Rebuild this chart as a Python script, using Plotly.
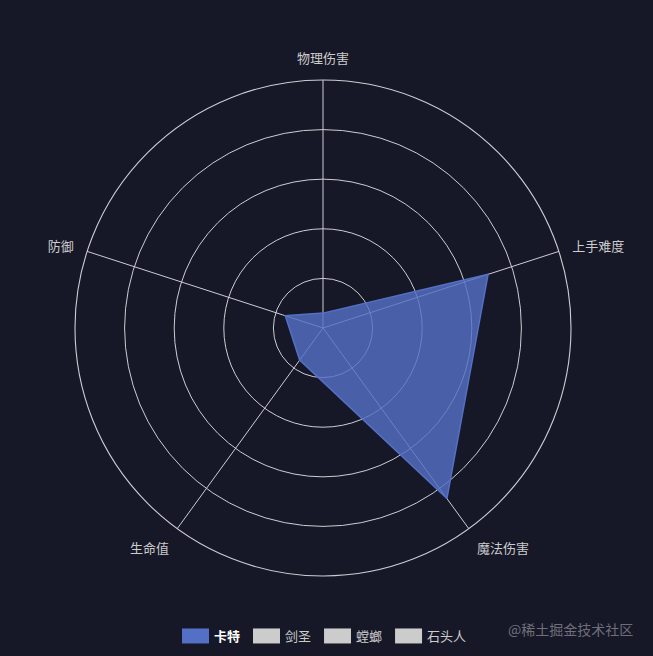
import plotly.graph_objects as go

# Radar indicators (clockwise from top)
indicators = ["物理伤害", "上手难度", "魔法伤害", "生命值", "防御"]
indicator_max = 100

# Series values (only 卡特 is shown in the picture; the others are toggled off in the legend)
series_names = ["卡特", "剑圣", "螳螂", "石头人"]
kate = [6, 70, 85, 16, 16]
jiansheng = [85, 40, 10, 45, 35]
tanglang = [80, 60, 10, 40, 30]
shitouren = [20, 30, 60, 90, 90]
series_values = [kate, jiansheng, tanglang, shitouren]
series_visible = [True, "legendonly", "legendonly", "legendonly"]
ring_values = [20, 40, 60, 80, 100]

BG = "#171827"
GRID = "#cdcdd4"
FONT = "Noto Sans CJK SC, Noto Sans, sans-serif"

line_colors = ["#5470c6", "#cccccc", "#cccccc", "#cccccc"]
fill_colors = ["rgba(84,112,198,0.82)", "#cccccc", "#cccccc", "#cccccc"]

fig = go.Figure()
for name, vals, vis, lc, fc in zip(series_names, series_values, series_visible, line_colors, fill_colors):
    label = f"<b><span style='color:#ffffff'>{name}</span></b>" if vis is True else name
    fig.add_trace(go.Scatterpolar(
        r=vals + [vals[0]],
        theta=indicators + [indicators[0]],
        mode="lines",
        fill="toself",
        fillcolor=fc,
        line=dict(color=lc, width=1.5),
        name=label,
        visible=vis,
        hoverinfo="skip",
    ))

fig.update_layout(
    width=653,
    height=656,
    paper_bgcolor=BG,
    plot_bgcolor=BG,
    margin=dict(l=75, r=82, t=80, b=80, autoexpand=False),
    font=dict(family=FONT, size=13, color="#cccccc"),
    polar=dict(
        bgcolor=BG,
        radialaxis=dict(
            range=[0, indicator_max],
            tickvals=ring_values,
            showticklabels=False,
            ticks="",
            showline=False,
            gridcolor=GRID,
            gridwidth=1.1,
        ),
        angularaxis=dict(
            direction="clockwise",
            rotation=90,
            gridcolor=GRID,
            gridwidth=1.1,
            showline=True,
            linecolor=GRID,
            linewidth=1.1,
            ticks="outside",
            ticklen=11,
            tickcolor="rgba(0,0,0,0)",
            tickfont=dict(family=FONT, size=13, color="#cccccc"),
        ),
    ),
    showlegend=True,
    legend=dict(
        orientation="h",
        x=0.5,
        xanchor="center",
        y=-0.121,
        yanchor="middle",
        font=dict(family=FONT, size=13, color="#cccccc"),
        bgcolor="rgba(0,0,0,0)",
        itemwidth=30,
        itemclick=False,
        itemdoubleclick=False,
    ),
    annotations=[
        dict(
            text="@稀土掘金技术社区",
            xref="paper", yref="paper",
            x=1.13, y=-0.107,
            xanchor="right", yanchor="middle",
            showarrow=False,
            font=dict(family=FONT, size=14, color="#6e6f7a"),
        )
    ],
)

post = """
document.body.style.margin = '0';
document.body.style.background = '%s';
var gd = document.getElementById('{plot_id}');
function fixLegend(){
  document.querySelectorAll('.legend .traces').forEach(function(t){
    t.style.opacity = 1;
    var col = null;
    try { col = t.__data__[0].trace.line.color; } catch(e) {}
    t.querySelectorAll('.legendfill path').forEach(function(p){
      p.setAttribute('d', 'M8,-7.5h27v15h-27z');
      if (col) { p.style.fill = col; p.style.fillOpacity = 1; }
    });
    t.querySelectorAll('.legendlines path').forEach(function(p){ p.style.display = 'none'; });
  });
}
fixLegend();
if (gd && gd.on) { gd.on('plotly_afterplot', fixLegend); }
setTimeout(fixLegend, 50);
""" % BG

fig.write_html("out.html", post_script=post, config={"displayModeBar": False})
